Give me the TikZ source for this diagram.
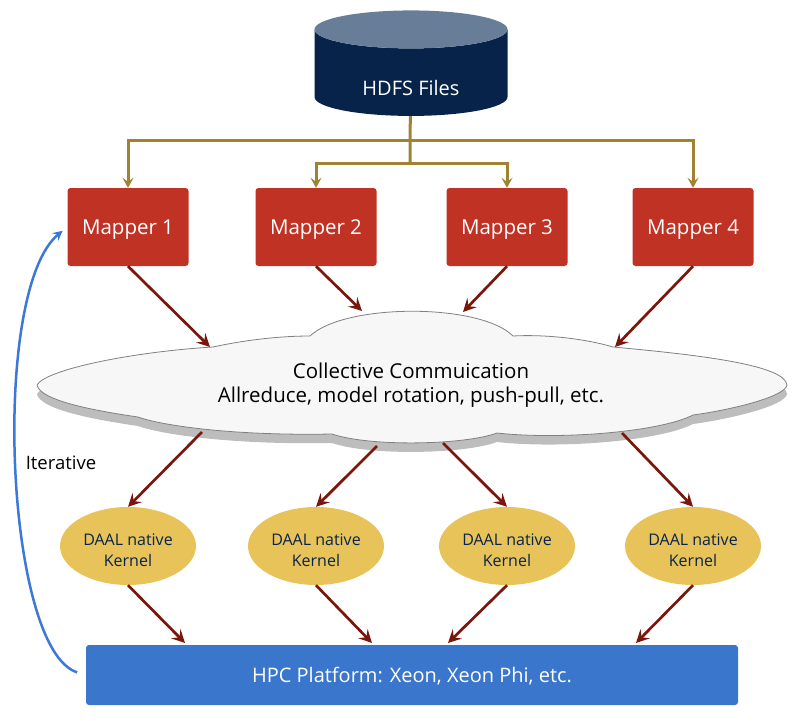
\documentclass[tikz,border=0pt]{standalone}
\usepackage{fontspec}
\setmainfont{Open Sans}
\usetikzlibrary{shapes.geometric, arrows.meta, positioning, calc}

\definecolor{hdfstop}{RGB}{104,125,152}
\definecolor{hdfsbody}{RGB}{8,35,74}
\definecolor{mapperred}{RGB}{192,50,36}
\definecolor{kernelgold}{RGB}{232,195,90}
\definecolor{hpcblue}{RGB}{58,118,204}
\definecolor{feedolive}{RGB}{160,130,50}
\definecolor{flowred}{RGB}{122,22,12}
\definecolor{loopblue}{RGB}{60,120,216}

% outline of the communication cloud
\newcommand{\cloudoutline}{(37,385) .. controls (45,370) and (130,352) .. (213,347)
  .. controls (245,340) and (280,336) .. (310,336)
  .. controls (345,303) and (480,303) .. (513,336)
  .. controls (550,334) and (590,340) .. (613,347)
  .. controls (700,355) and (785,365) .. (787,385)
  .. controls (785,397) and (730,410) .. (693,415)
  .. controls (660,432) and (560,440) .. (497,433)
  .. controls (465,445) and (370,447) .. (332,434)
  .. controls (230,436) and (160,425) .. (138,417)
  .. controls (90,410) and (40,400) .. (37,385) -- cycle}

\begin{document}
\begin{tikzpicture}[
    x=1pt, y=-1pt,
    mapper/.style={fill=mapperred, rounded corners=3pt, text=white, minimum width=121, minimum height=78, inner sep=0pt, text depth=0pt, font=\fontsize{20.5}{24}\selectfont},
    kernel/.style={ellipse, fill=kernelgold, text=hdfsbody, minimum width=136, minimum height=78, inner sep=0pt, align=center, text height=40pt, text depth=0pt, font=\fontsize{16}{21}\selectfont},
    platform/.style={fill=hpcblue, rounded corners=3pt, text=white, minimum width=652, minimum height=60, text depth=0pt, font=\fontsize{20}{24}\selectfont},
    feed/.style={draw=feedolive, line width=3pt, -{Stealth[length=10pt, width=11pt, inset=4pt]}},
    flow/.style={draw=flowred, line width=2.7pt, -{Stealth[length=13pt, width=13pt, inset=5pt]}},
    iterate/.style={draw=loopblue, line width=2.5pt, -{Stealth[length=10pt, width=10pt, inset=4pt]}},
    notetext/.style={text depth=0pt, font=\fontsize{18.5}{22}\selectfont}
]
    \useasboundingbox (0,0) rectangle (800,720);

    % HDFS
    \node[cylinder, shape border rotate=90, aspect=0.35, minimum width=193, minimum height=105.5,
          cylinder uses custom fill, cylinder end fill=hdfstop, cylinder body fill=hdfsbody,
          font=\fontsize{21}{24}\selectfont] (hdfs) at (411,75.25) {\phantom{HDFS Files}};
    \node[text=white, text depth=0pt, font=\fontsize{20}{24}\selectfont] (hdfslabel) at (411,87.5) {HDFS Files};

    % Mappers and kernels
    \foreach \i/\x in {1/128, 2/316, 3/507, 4/693} {
        \node[mapper] (m\i) at (\x,227) {Mapper \i};
        \node[kernel] (k\i) at (\x,546) {DAAL native\\Kernel};
    }

    % HDFS -> mappers
    \coordinate (j1) at (410,140);
    \coordinate (j2) at (410,163);
    \draw[feed, -] (hdfs) -- (j1) -- (j2);
    \draw[feed] (j1) -| (m1.north);
    \draw[feed] (j1) -| (m4.north);
    \draw[feed] (j2) -| (m2.north);
    \draw[feed] (j2) -| (m3.north);

    % Cloud
    \fill[black!26, yshift=-9pt] \cloudoutline;
    \filldraw[fill=black!3, draw=black!50, line width=0.8pt] \cloudoutline;
    \node[align=center, font=\fontsize{20.5}{24}\selectfont] (cloud) at (411,385)
        {Collective Commuication\\Allreduce, model rotation, push-pull, etc.};

    \coordinate (ci1) at (210,347);
    \coordinate (ci2) at (362,311);
    \coordinate (ci3) at (463,312);
    \coordinate (ci4) at (615,347);
    \coordinate (co1) at (202,432);
    \coordinate (co2) at (377,446);
    \coordinate (co3) at (443,443);
    \coordinate (co4) at (622,433);

    % Platform
    \node[platform] (hpc) at (412,675) {HPC Platform: Xeon, Xeon Phi, etc.};
    \coordinate (hp1) at (185,643);
    \coordinate (hp2) at (372,643);
    \coordinate (hp3) at (448,643);
    \coordinate (hp4) at (636,643);

    % Arrows
    \foreach \i in {1,...,4} {
        \draw[flow] (m\i.south) -- (ci\i);
        \draw[flow] (co\i) -- (k\i.north);
        \draw[flow] (k\i.south) -- (hp\i);
    }

    % Iteration loop
    \draw[iterate, shorten <=9pt, shorten >=6pt] (hpc.west) .. controls (5,650) and (-10,290) .. (m1.west);
    \node[notetext] (iter) at (61,463) {Iterative};

\end{tikzpicture}
\end{document}
